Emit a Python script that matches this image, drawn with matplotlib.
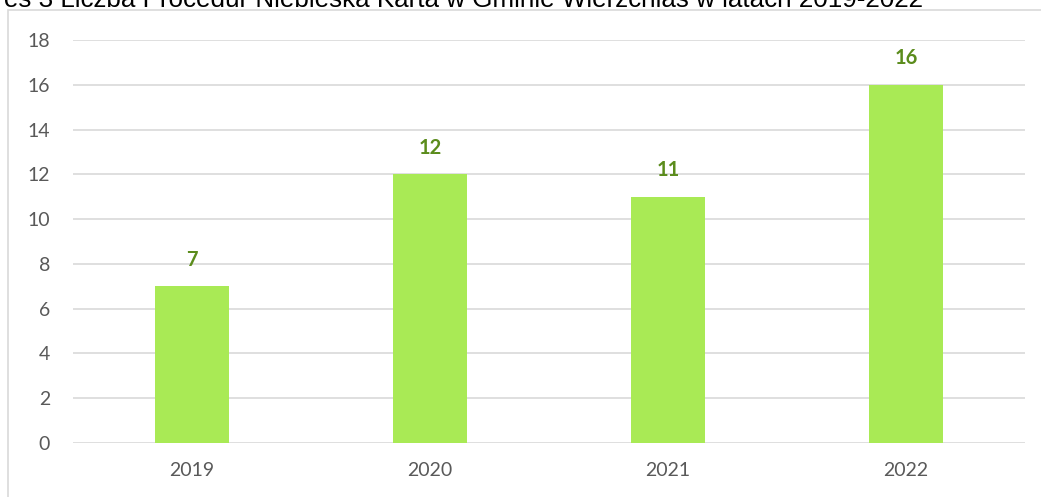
import matplotlib.pyplot as plt
from matplotlib.patches import Rectangle

lata = ["2019", "2020", "2021", "2022"]
procedury = [7, 12, 11, 16]
y_ticks = [0, 2, 4, 6, 8, 10, 12, 14, 16, 18]
tytul = "Wykres 3 Liczba Procedur Niebieska Karta w Gminie Wierzchlas w latach 2019-2022"

W, H = 1041, 497
fig = plt.figure(figsize=(W / 100, H / 100), dpi=100)

# ramka wykresu (ucieta z prawej i od dolu)
fig.patches.append(Rectangle((8 / W, -0.1), 1.2, (H - 10) / H + 0.1,
                             transform=fig.transFigure, fill=False,
                             edgecolor="#d9d9d9", linewidth=1.2))

# tytul ucięty od gory i z lewej
fig.text(923 / W, (H - 7) / H, tytul, ha="right", va="baseline",
         fontsize=18.7, family="Liberation Sans", color="black")

ax = fig.add_axes([73 / W, 54 / H, 952 / W, 403 / H])
x = range(len(lata))
ax.bar(x, procedury, width=0.315, color="#a9ea55", zorder=3)

for xi, v in zip(x, procedury):
    ax.annotate(str(v), (xi, v), xytext=(0, 12), textcoords="offset points",
                ha="center", va="bottom", fontsize=14.5, fontweight="bold",
                color="#5b8c1c", family="Lato")

ax.set_xlim(-0.5, len(lata) - 0.5)
ax.set_ylim(0, 18)
ax.set_yticks(y_ticks)
ax.set_xticks(list(x))
ax.set_xticklabels(lata)
ax.grid(axis="y", color="#d9d9d9", linewidth=1.2, zorder=0)
for s in ax.spines.values():
    s.set_visible(False)
ax.tick_params(length=0, labelsize=14, labelcolor="#595959", pad=14)
ax.tick_params(axis="y", pad=16.5)
for lab in ax.get_xticklabels() + ax.get_yticklabels():
    lab.set_family("Lato")

fig.savefig("out.png", dpi=100)
